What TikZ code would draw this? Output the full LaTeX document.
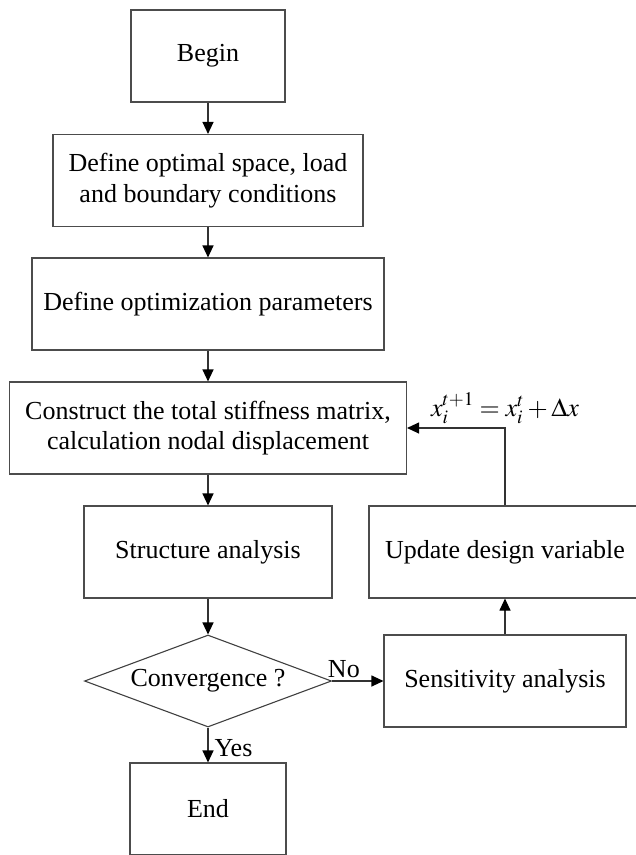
\documentclass[tikz,border=0pt]{standalone}
\usepackage{mathptmx}
\usepackage{fontspec}
\setmainfont{Liberation Serif}
\usetikzlibrary{shapes.geometric,arrows.meta}

\begin{document}
\begin{tikzpicture}[x=1pt, y=-1pt,
  font=\fontsize{26}{30.6}\selectfont,
  proc/.style={shape=rectangle, draw=black!70, line width=1.1pt, inner sep=0pt, minimum height=92pt, align=center},
  decide/.style={shape=diamond, draw=black!75, line width=1.1pt, inner sep=0pt, aspect=2.68, minimum width=247pt, minimum height=92pt},
  link/.style={-{Triangle[length=12pt,width=11pt,color=black]}, line width=1.1pt, draw=black!80}]
\useasboundingbox (0,0) rectangle (636,855);
% main column
\node[proc, minimum width=154pt] (begin) at (208,56) {Begin};
\node[proc, minimum width=310pt] (space) at (208,180.5) {Define optimal space, load\\and boundary conditions};
\node[proc, minimum width=352pt] (param) at (208,304) {Define optimization parameters};
\node[proc, minimum width=397pt] (stiff) at (208,428) {Construct the total stiffness matrix,\\calculation nodal displacement};
\node[proc, minimum width=248pt] (struct) at (208,552) {Structure analysis};
\node[decide] (conv) at (208,681) {Convergence ?};
\node[proc, minimum width=156pt] (end) at (208,809) {End};
% loop back
\node[proc, minimum width=242pt] (sens) at (505,681) {Sensitivity analysis};
\node[proc, minimum width=272pt] (update) at (505,552) {Update design variable};
\draw [link] (begin) -- (space);
\draw [link] (space) -- (param);
\draw [link] (param) -- (stiff);
\draw [link] (stiff) -- (struct);
\draw [link] (struct) -- (conv);
\draw [link] (conv) -- node[pos=0.83, anchor=base west, xshift=6pt, inner sep=0pt] {Yes} (end);
\draw [link] (conv) -- node[pos=0.23, anchor=base, yshift=4pt, inner sep=0pt] {No} (sens);
\draw [link] (sens) -- (update);
\draw [link] (update.north) |- node[pos=0.5, anchor=base, yshift=12pt, inner sep=0pt] {$x_i^{t+1} = x_i^t + \Delta x$} (stiff.east);
\end{tikzpicture}
\end{document}
